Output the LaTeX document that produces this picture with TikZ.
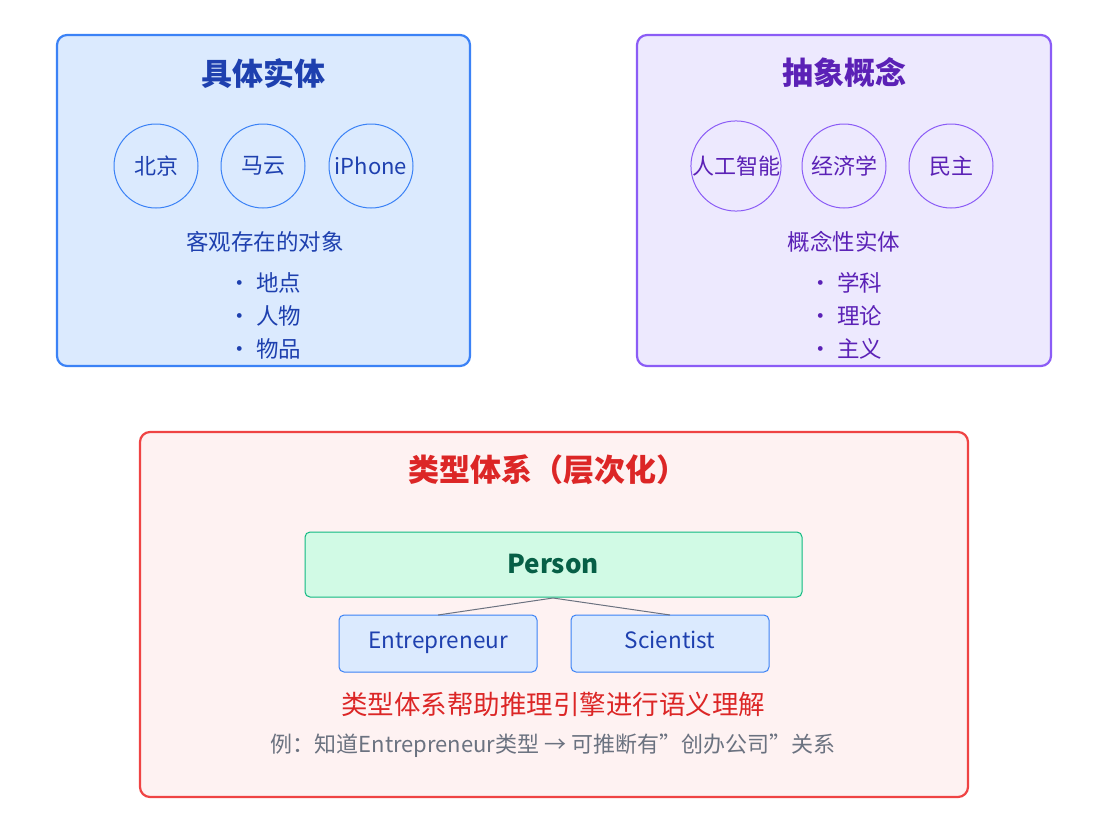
\documentclass[tikz,border=0pt]{standalone}
\usepackage{fontspec}
\setmainfont{Noto Sans CJK SC}
\begin{document}
\begin{tikzpicture}[x=1pt,y=-1pt,
  panel/.style={rounded corners=10pt,line width=2.2pt},
  circ/.style={circle,draw,minimum size=84pt,inner sep=0pt,line width=1pt,font=\fontsize{22}{26}\selectfont},
  title/.style={font=\fontsize{31}{36}\selectfont\bfseries},
  txt/.style={font=\fontsize{22.5}{26}\selectfont},
  tbox/.style={rounded corners=5pt,draw,line width=1pt}]
\useasboundingbox (0,0) rectangle (1098,836);
\definecolor{bB}{HTML}{3B82F6}\definecolor{bF}{HTML}{DBEAFE}\definecolor{bT}{HTML}{1E40AF}
\definecolor{pB}{HTML}{8B5CF6}\definecolor{pF}{HTML}{EDE9FE}\definecolor{pT}{HTML}{5B21B6}
\definecolor{rB}{HTML}{EF4444}\definecolor{rF}{HTML}{FEF2F2}\definecolor{rT}{HTML}{DC2626}
\definecolor{gB}{HTML}{10B981}\definecolor{gF}{HTML}{D1FAE5}\definecolor{gT}{HTML}{065F46}
\definecolor{gy}{HTML}{6B7280}
% blue
\draw[panel,draw=bB,fill=bF] (57,35) rectangle (470,366);
\node[title,text=bT] (t1) at (263,73) {具体实体};
\node[circ,draw=bB,text=bT] (c1) at (156,166) {北京};
\node[circ,draw=bB,text=bT] (c2) at (263,166) {马云};
\node[circ,draw=bB,text=bT] (c3) at (371,166) {iPhone};
\node[txt,text=bT] (s1) at (265,242) {客观存在的对象};
\node[txt,text=bT] (b11) at (265,283) {• 地点};
\node[txt,text=bT] (b12) at (265,316) {• 人物};
\node[txt,text=bT] (b13) at (265,349) {• 物品};
% purple
\draw[panel,draw=pB,fill=pF] (637,35) rectangle (1051,366);
\node[title,text=pT] (t2) at (844,73) {抽象概念};
\node[circ,draw=pB,text=pT] (d1) at (736,166) {人工智能};
\node[circ,draw=pB,text=pT] (d2) at (844,166) {经济学};
\node[circ,draw=pB,text=pT] (d3) at (951,166) {民主};
\node[txt,text=pT] (s2) at (844,242) {概念性实体};
\node[txt,text=pT] (b21) at (846,283) {• 学科};
\node[txt,text=pT] (b22) at (846,316) {• 理论};
\node[txt,text=pT] (b23) at (846,349) {• 主义};
% red
\draw[panel,draw=rB,fill=rF] (140,432) rectangle (968,797);
\node[title,text=rT] (t3) at (548,470) {类型体系（层次化）};
\draw[tbox,draw=gB,fill=gF] (305,532) rectangle (802,597);
\node[font=\fontsize{26}{30}\selectfont\bfseries,text=gT] (person) at (553,564) {Person};
\coordinate (pb) at (553,598);
\draw[tbox,draw=bB,fill=bF] (339,615) rectangle (537,672);
\node[txt,text=bT,text height=16pt,text depth=5pt] (ent) at (438,643) {Entrepreneur};
\draw[tbox,draw=bB,fill=bF] (571,615) rectangle (769,672);
\node[txt,text=bT,text height=16pt,text depth=5pt] (sci) at (670,643) {Scientist};
\coordinate (et) at (438,615);\coordinate (st) at (670,615);
\draw[gy,line width=1pt] (pb) -- (et) (pb) -- (st);
\node[font=\fontsize{26.5}{30}\selectfont,text=rT] (r1) at (553,704) {类型体系帮助推理引擎进行语义理解};
\node[font=\fontsize{22}{26}\selectfont,text=gy] (r2) at (553,746) {例：知道Entrepreneur类型 → 可推断有\char34 创办公司\char34 关系};
\end{tikzpicture}
\end{document}
